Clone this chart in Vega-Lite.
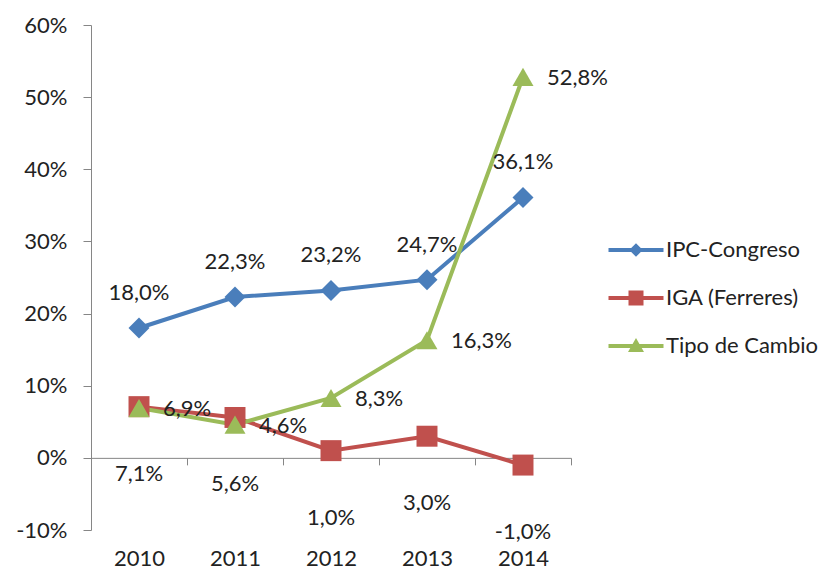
{
  "$schema": "https://vega.github.io/schema/vega-lite/v6.json",
  "width": 480,
  "height": 505,
  "autosize": "none",
  "padding": {"left": 91, "top": 25, "right": 269, "bottom": 45},
  "background": "white",
  "config": {
    "view": {"stroke": null},
    "font": "Lato",
    "locale": {"number": {"decimal": ",", "thousands": ".", "grouping": [3], "currency": ["$", ""], "minus": "-"}}
  },
  "data": {
    "values": [
      {"series": "IPC-Congreso", "year": "2010", "value": 0.180},
      {"series": "IPC-Congreso", "year": "2011", "value": 0.223},
      {"series": "IPC-Congreso", "year": "2012", "value": 0.232},
      {"series": "IPC-Congreso", "year": "2013", "value": 0.247},
      {"series": "IPC-Congreso", "year": "2014", "value": 0.361},
      {"series": "IGA (Ferreres)", "year": "2010", "value": 0.071},
      {"series": "IGA (Ferreres)", "year": "2011", "value": 0.056},
      {"series": "IGA (Ferreres)", "year": "2012", "value": 0.010},
      {"series": "IGA (Ferreres)", "year": "2013", "value": 0.030},
      {"series": "IGA (Ferreres)", "year": "2014", "value": -0.010},
      {"series": "Tipo de Cambio", "year": "2010", "value": 0.069},
      {"series": "Tipo de Cambio", "year": "2011", "value": 0.046},
      {"series": "Tipo de Cambio", "year": "2012", "value": 0.083},
      {"series": "Tipo de Cambio", "year": "2013", "value": 0.163},
      {"series": "Tipo de Cambio", "year": "2014", "value": 0.528}
    ]
  },
  "encoding": {
    "x": {
      "field": "year", "type": "ordinal",
      "scale": {"type": "band", "paddingInner": 0, "paddingOuter": 0},
      "axis": {
        "title": null, "orient": "bottom", "offset": -72.14,
        "domainColor": "#868686", "domainWidth": 1,
        "tickColor": "#868686", "tickSize": 7, "tickBand": "extent",
        "labelAngle": 0, "labelFontSize": 22, "labelColor": "#222222",
        "labelPadding": 84, "labelFont": "Lato"
      }
    },
    "y": {
      "field": "value", "type": "quantitative",
      "scale": {"domain": [-0.1, 0.6], "nice": false, "zero": false},
      "axis": {
        "title": null, "format": ".0%", "values": [-0.1, 0, 0.1, 0.2, 0.3, 0.4, 0.5, 0.6],
        "grid": false, "domainColor": "#868686", "tickColor": "#868686",
        "tickSize": 8, "labelPadding": 16, "labelFontSize": 22,
        "labelColor": "#222222", "labelFont": "Lato"
      }
    },
    "color": {
      "field": "series", "type": "nominal",
      "scale": {
        "domain": ["IPC-Congreso", "IGA (Ferreres)", "Tipo de Cambio"],
        "range": ["#4A7EBB", "#C0504D", "#9BBB59"]
      },
      "legend": {
        "orient": "none", "legendX": 534, "legendY": 214,
        "title": null, "padding": 0,
        "labelFontSize": 22, "labelFont": "Lato", "labelColor": "#222222",
        "symbolSize": 400, "labelOffset": 19, "rowPadding": 26,
        "symbolType": "circle",
        "encode": {
          "symbols": {
            "update": {
              "shape": {"signal": "datum.value === 'IPC-Congreso' ? 'M-2.75,-0.2H2.75V0.2H-2.75Z M0,-0.68L0.68,0L0,0.68L-0.68,0Z' : datum.value === 'IGA (Ferreres)' ? 'M-2.75,-0.2H2.75V0.2H-2.75Z M-0.75,-0.75H0.75V0.75H-0.75Z' : 'M-2.75,-0.2H2.75V0.2H-2.75Z M0,-0.8L0.8,0.6H-0.8Z'"},
              "fill": {"signal": "datum.value === 'IPC-Congreso' ? '#4A7EBB' : datum.value === 'IGA (Ferreres)' ? '#C0504D' : '#9BBB59'"},
              "fillOpacity": {"value": 1},
              "opacity": {"value": 1},
              "strokeWidth": {"value": 0}
            }
          }
        }
      }
    }
  },
  "layer": [
    {"mark": {"type": "line", "strokeWidth": 4}},
    {
      "transform": [{"filter": "datum.series === 'IPC-Congreso'"}],
      "mark": {"type": "point", "filled": true, "opacity": 1, "size": 440, "shape": "diamond"}
    },
    {
      "transform": [{"filter": "datum.series === 'IGA (Ferreres)'"}],
      "mark": {"type": "point", "filled": true, "opacity": 1, "size": 440, "shape": "square"}
    },
    {
      "transform": [{"filter": "datum.series === 'Tipo de Cambio'"}],
      "mark": {"type": "point", "filled": true, "opacity": 1, "size": 440, "shape": "triangle-up"}
    },
    {
      "transform": [{"filter": "datum.series === 'IPC-Congreso'"}],
      "mark": {"type": "text", "align": "center", "baseline": "middle", "dy": -35, "fontSize": 22, "font": "Lato", "color": "#222222"},
      "encoding": {"text": {"field": "value", "format": ".1%"}, "color": {"value": "#222222"}}
    },
    {
      "transform": [{"filter": "datum.series === 'IGA (Ferreres)'"}],
      "mark": {"type": "text", "align": "center", "baseline": "middle", "dy": 67, "fontSize": 22, "font": "Lato", "color": "#222222"},
      "encoding": {"text": {"field": "value", "format": ".1%"}, "color": {"value": "#222222"}}
    },
    {
      "transform": [{"filter": "datum.series === 'Tipo de Cambio'"}],
      "mark": {"type": "text", "align": "left", "baseline": "middle", "dx": 24, "dy": 1, "fontSize": 22, "font": "Lato", "color": "#222222"},
      "encoding": {"text": {"field": "value", "format": ".1%"}, "color": {"value": "#222222"}}
    }
  ]
}
